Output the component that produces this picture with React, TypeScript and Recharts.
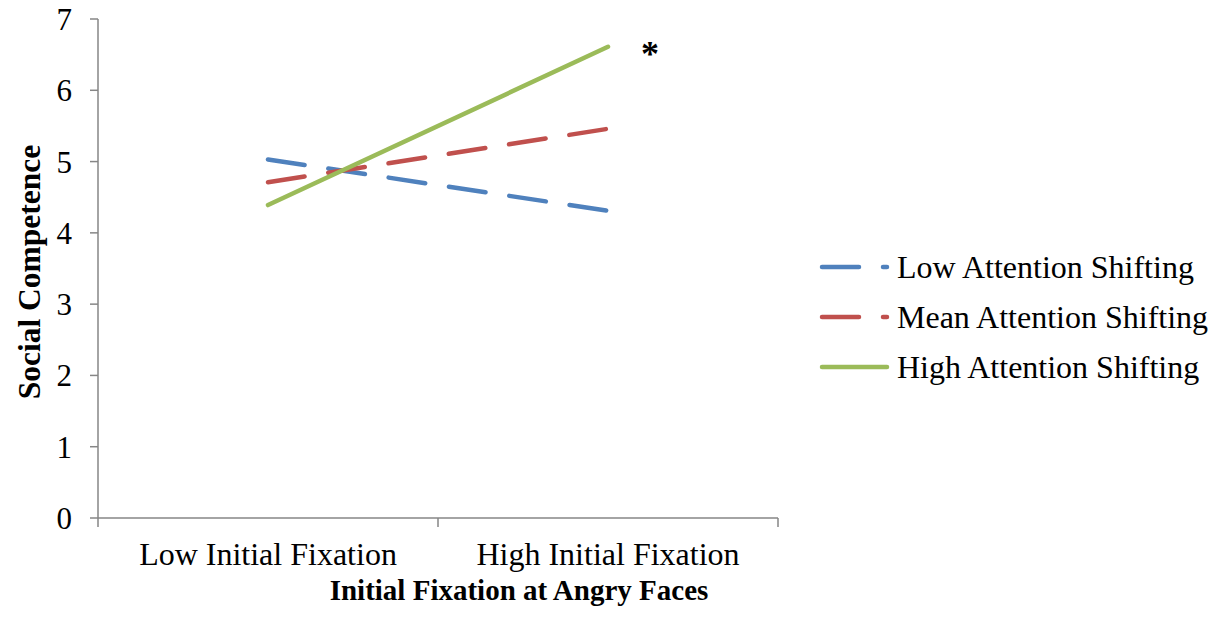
import React from "react";
import { LineChart, Line, XAxis, YAxis, Legend, LabelList } from "recharts";

const categories = ["Low Initial Fixation", "High Initial Fixation"];
const lowShift = [5.03, 4.31];
const meanShift = [4.71, 5.46];
const highShift = [4.39, 6.61];
const yTicks = [0, 1, 2, 3, 4, 5, 6, 7];
const xTicks = [0, 0.5, 1, 1.5, 2];
const seriesNames = ["Low Attention Shifting", "Mean Attention Shifting", "High Attention Shifting"];
const seriesKeys = ["low", "mean", "high"];
const seriesColors = ["#4F81BD", "#C0504D", "#9BBB59"];
const seriesDash = ["37 24", "37 24", undefined];
const xTitle = "Initial Fixation at Angry Faces";
const yTitle = "Social Competence";

const data = categories.map((c, i) => ({
  x: i + 0.5,
  name: c,
  low: lowShift[i],
  mean: meanShift[i],
  high: highShift[i],
}));

const FONT = "'Liberation Serif', 'Times New Roman', serif";
const AXIS = "#868686";

const XTick = (props: any) => {
  const { x, y, payload } = props;
  const v = payload.value;
  if (Number.isInteger(v)) {
    return <line x1={x} x2={x} y1={y} y2={y + 9} stroke={AXIS} strokeWidth={1.5} />;
  }
  return (
    <text x={x} y={y + 47} textAnchor="middle" fontFamily={FONT} fontSize={32} fill="#000">
      {categories[Math.floor(v)]}
    </text>
  );
};

const renderLegend = () => (
  <div style={{ fontFamily: FONT, fontSize: 32, color: "#000" }}>
    {seriesNames.map((n, i) => (
      <div key={n} style={{ display: "flex", alignItems: "center", height: 50, whiteSpace: "nowrap" }}>
        <svg width={87} height={50} style={{ flex: "none" }}>
          <line
            x1={12}
            x2={77}
            y1={25}
            y2={25}
            stroke={seriesColors[i]}
            strokeWidth={4.5}
            strokeLinecap="round"
            strokeDasharray={seriesDash[i]}
          />
        </svg>
        <span>{n}</span>
      </div>
    ))}
  </div>
);

const Asterisk = (props: any) => {
  const { x, y, index } = props;
  if (index !== categories.length - 1) return null;
  return (
    <text x={x + 42} y={y + 19} textAnchor="middle" fontFamily={FONT} fontWeight="bold" fontSize={36} fill="#000">
      *
    </text>
  );
};

export default function App() {
  return (
    <div style={{ position: "absolute", left: 0, top: 0, width: 1217, height: 617, background: "#fff" }}>
      <LineChart width={1217} height={617} data={data} margin={{ top: 19, right: 439, bottom: 19, left: 8 }}>
        <XAxis
          dataKey="x"
          type="number"
          domain={[0, 2]}
          ticks={xTicks}
          interval={0}
          tickLine={false}
          tickSize={0}
          tickMargin={0}
          height={80}
          stroke={AXIS}
          strokeWidth={1.5}
          tick={<XTick />}
          label={{
            content: () => (
              <text x={519} y={600} textAnchor="middle" fontFamily={FONT} fontWeight="bold" fontSize={29} fill="#000">
                {xTitle}
              </text>
            ),
          }}
        />
        <YAxis
          type="number"
          domain={[0, 7]}
          ticks={yTicks}
          interval={0}
          width={90}
          tickSize={8}
          tickMargin={18}
          stroke={AXIS}
          strokeWidth={1.5}
          tick={{ fill: "#000", fontFamily: FONT, fontSize: 31 }}
          label={{
            content: () => (
              <text
                x={0}
                y={0}
                transform="translate(40,272) rotate(-90)"
                textAnchor="middle"
                fontFamily={FONT}
                fontWeight="bold"
                fontSize={31.5}
                fill="#000"
              >
                {yTitle}
              </text>
            ),
          }}
        />
        <Legend
          layout="vertical"
          align="center"
          verticalAlign="middle"
          wrapperStyle={{ left: 810, top: 242, width: 407 }}
          content={renderLegend}
        />
        {seriesKeys.map((k, i) => (
          <Line
            key={k}
            dataKey={k}
            name={seriesNames[i]}
            stroke={seriesColors[i]}
            strokeWidth={4.5}
            strokeLinecap="round"
            strokeDasharray={seriesDash[i]}
            dot={false}
            activeDot={false}
            isAnimationActive={false}
          >
            {k === "high" ? <LabelList dataKey={k} content={<Asterisk />} /> : null}
          </Line>
        ))}
      </LineChart>
    </div>
  );
}
